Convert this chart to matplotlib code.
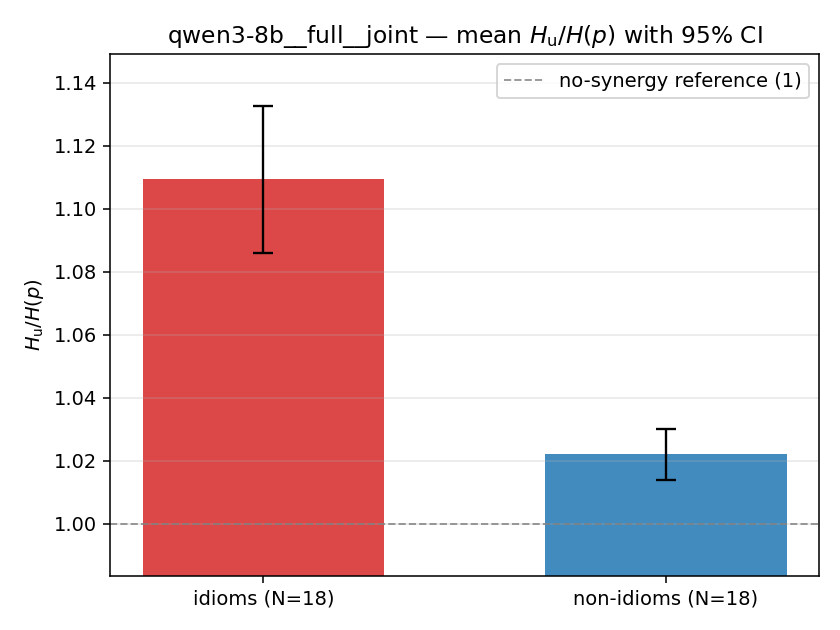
import matplotlib
matplotlib.use("Agg")
import matplotlib.pyplot as plt

categories = ["idioms (N=18)", "non-idioms (N=18)"]
means = [1.1093, 1.0222]
ci_low = [1.0858, 1.0139]
ci_high = [1.1327, 1.0301]
colors = ["tab:red", "tab:blue"]

DPI = 140
fig, ax = plt.subplots(figsize=(840 / DPI, 630 / DPI), dpi=DPI)
x = list(range(len(categories)))
yerr = [[m - l for m, l in zip(means, ci_low)], [h - m for m, h in zip(means, ci_high)]]
ax.bar(x, means, width=0.6, color=colors, alpha=0.85)
ax.errorbar(x, means, yerr=yerr, fmt="none", ecolor="black", elinewidth=1.2,
            capsize=5, capthick=1.2)
ax.axhline(1.0, color="gray", linestyle="--", linewidth=1, alpha=0.8,
           label="no-synergy reference (1)")
ax.set_xticks(x)
ax.set_xticklabels(categories)
ax.set_ylim(0.9835, 1.149)
ax.set_ylabel(r"$H_{\mathrm{u}}/H(p)$")
ax.set_title(r"qwen3-8b__full__joint — mean $H_{\mathrm{u}}/H(p)$ with 95% CI")
ax.yaxis.grid(True, alpha=0.3)
ax.legend(loc="upper right")
fig.subplots_adjust(left=0.1315, right=0.975, top=0.914, bottom=0.0857)
fig.savefig("out.png", dpi=DPI)
